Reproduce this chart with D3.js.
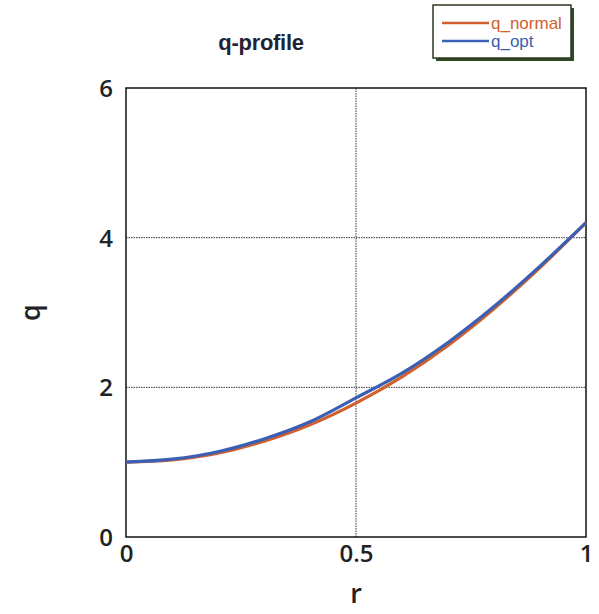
<!DOCTYPE html>
<html><head><meta charset="utf-8">
<script src="https://cdn.jsdelivr.net/npm/d3@7"></script>
<style>body{margin:0;background:#fff;} svg{display:block;}</style>
</head><body>
<script>
const rValues = [0, 0.1, 0.2, 0.3, 0.4, 0.5, 0.6, 0.7, 0.8, 0.9, 1.0];
const qNormal = [1.0, 1.03, 1.12, 1.28, 1.50, 1.79, 2.14, 2.56, 3.05, 3.60, 4.20];
const qOpt    = [1.0, 1.04, 1.14, 1.31, 1.54, 1.86, 2.19, 2.60, 3.08, 3.62, 4.20];
const xTicks = [0, 0.5, 1];
const yTicks = [0, 2, 4, 6];
const seriesNames = ["q_normal", "q_opt"];
const seriesColors = ["#d0602e", "#3a5fb4"];

const W = 599, H = 614;
const svg = d3.select("body").append("svg").attr("width", W).attr("height", H);
const m = {left: 126, right: 586, top: 88, bottom: 537};
const x = d3.scaleLinear().domain([0, 1]).range([m.left, m.right]);
const y = d3.scaleLinear().domain([0, 6]).range([m.bottom, m.top]);
const font = "'Open Sans', 'DejaVu Sans', sans-serif";

// grid
svg.append("g").selectAll("line").data(xTicks.filter(d => d > 0 && d < 1)).join("line")
  .attr("x1", d => x(d)).attr("x2", d => x(d)).attr("y1", m.top).attr("y2", m.bottom)
  .attr("stroke", "#334").attr("stroke-width", 1).attr("stroke-dasharray", "1.5,1");
svg.append("g").selectAll("line").data(yTicks.filter(d => d > 0 && d < 6)).join("line")
  .attr("x1", m.left).attr("x2", m.right).attr("y1", d => y(d)).attr("y2", d => y(d))
  .attr("stroke", "#334").attr("stroke-width", 1).attr("stroke-dasharray", "1.5,1");

// axes via d3
const xAxis = svg.append("g").attr("transform", `translate(0,${m.bottom})`)
  .call(d3.axisBottom(x).tickValues(xTicks).tickFormat(d3.format("")).tickSize(0).tickPadding(7));
const yAxis = svg.append("g").attr("transform", `translate(${m.left},0)`)
  .call(d3.axisLeft(y).tickValues(yTicks).tickFormat(d3.format("")).tickSize(0).tickPadding(13));
[xAxis, yAxis].forEach(g => {
  g.select(".domain").remove();
  g.selectAll("text").attr("font-family", font).attr("font-size", 24)
    .attr("font-weight", 600).attr("fill", "#222");
});
xAxis.selectAll("text").attr("dy", "0.75em");
yAxis.selectAll("text").attr("dy", "0.35em");

// frame
svg.append("rect").attr("x", m.left).attr("y", m.top)
  .attr("width", m.right - m.left).attr("height", m.bottom - m.top)
  .attr("fill", "none").attr("stroke", "#111").attr("stroke-width", 1.5);

// lines
const line = d3.line().x((d, i) => x(rValues[i])).y(d => y(d)).curve(d3.curveMonotoneX);
[qNormal, qOpt].forEach((s, i) => {
  svg.append("path").attr("d", line(s)).attr("fill", "none")
    .attr("stroke", seriesColors[i]).attr("stroke-width", 3.2);
});

// title
svg.append("text").attr("x", 261).attr("y", 50).attr("text-anchor", "middle")
  .attr("font-family", "'Liberation Sans', Arial, sans-serif").attr("font-weight", "bold")
  .attr("font-size", 22).attr("fill", "#223").attr("letter-spacing", "-0.3").text("q-profile");

// axis labels
svg.append("text").attr("x", x(0.5)).attr("y", 603).attr("text-anchor", "middle")
  .attr("font-family", font).attr("font-size", 27).attr("font-weight", 600).attr("fill", "#222").text("r");
svg.append("text").attr("transform", `translate(40,${y(3)}) rotate(-90)`).attr("text-anchor", "middle")
  .attr("font-family", font).attr("font-size", 27).attr("font-weight", 600).attr("fill", "#222").text("q");

// legend
const lg = svg.append("g");
lg.append("rect").attr("x", 436).attr("y", 8).attr("width", 138).attr("height", 53).attr("fill", "#2e4a22");
lg.append("rect").attr("x", 433).attr("y", 5).attr("width", 138).attr("height", 53)
  .attr("fill", "#fff").attr("stroke", "#2e3a22").attr("stroke-width", 1.5);
seriesNames.forEach((n, i) => {
  const yy = 23 + i * 18;
  lg.append("line").attr("x1", 442).attr("x2", 489).attr("y1", yy).attr("y2", yy)
    .attr("stroke", seriesColors[i]).attr("stroke-width", 2.5);
  lg.append("text").attr("x", 491).attr("y", yy).attr("dy", "0.35em")
    .attr("font-family", "'Liberation Sans', Arial, sans-serif").attr("font-size", 17)
    .attr("fill", seriesColors[i]).text(n);
});
</script>
</body></html>
